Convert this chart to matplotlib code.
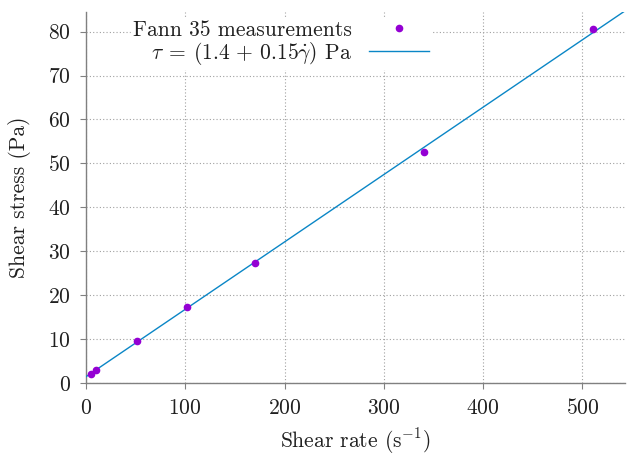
import numpy as np
import matplotlib.pyplot as plt

plt.rcParams['font.family'] = 'cmr10'
plt.rcParams['mathtext.fontset'] = 'cm'
plt.rcParams['axes.formatter.use_mathtext'] = True
plt.rcParams['font.size'] = 15.5

# Fann 35 readings
shear_rate = [5.1, 10.2, 51, 102, 170, 340, 511]
shear_stress = [2.0, 3.0, 9.6, 17.3, 27.3, 52.6, 80.7]

# fitted Bingham model (line as drawn in the picture)
tau_0 = 1.4
mu_p = 0.1535
x_fit = np.array([0.0, 560.0])
y_fit = tau_0 + mu_p * x_fit

fig = plt.figure(figsize=(6.27, 4.58), dpi=100)
ax = fig.add_axes([0.137, 0.164, 0.860, 0.810])

ax.plot(x_fit, y_fit, '-', color='#0a86c6', lw=1.0,
        label=r'$\tau\:=\:(1.4\,+\,0.15\dot{\gamma})$ Pa', zorder=3)
ax.plot(shear_rate, shear_stress, 'o', color='#9400d3', ms=4.5,
        label='Fann 35 measurements', zorder=4)

ax.set_xlim(0, 543)
ax.set_ylim(0, 84.5)
ax.set_xticks(np.arange(0, 501, 100))
ax.set_yticks(np.arange(0, 81, 10))

ax.grid(True, linestyle=(0, (1, 2)), color='#a0a0a0', lw=0.8)
for s in ['top', 'right']:
    ax.spines[s].set_visible(False)
for s in ['left', 'bottom']:
    ax.spines[s].set_color('#808080')
    ax.spines[s].set_linewidth(1.0)
ax.tick_params(direction='out', length=4, color='#808080', labelcolor='#202020', pad=7)

ax.set_xlabel(r'Shear rate (s$^{-1}$)', color='#202020', labelpad=6)
ax.set_ylabel('Shear stress (Pa)', color='#202020', labelpad=12)

h, l = ax.get_legend_handles_labels()
leg = ax.legend(h[::-1], l[::-1], loc='upper left', bbox_to_anchor=(0.079, 0.989),
                markerfirst=False, frameon=True, facecolor='white', edgecolor='white',
                framealpha=1, handlelength=2.8, borderpad=0.1, labelspacing=0.0,
                handletextpad=0.8, borderaxespad=0.1)
for t in leg.get_texts():
    t.set_ha('right')
    t.set_color('#202020')
leg._legend_box.align = 'right'

fig.savefig('out.png', dpi=100)
